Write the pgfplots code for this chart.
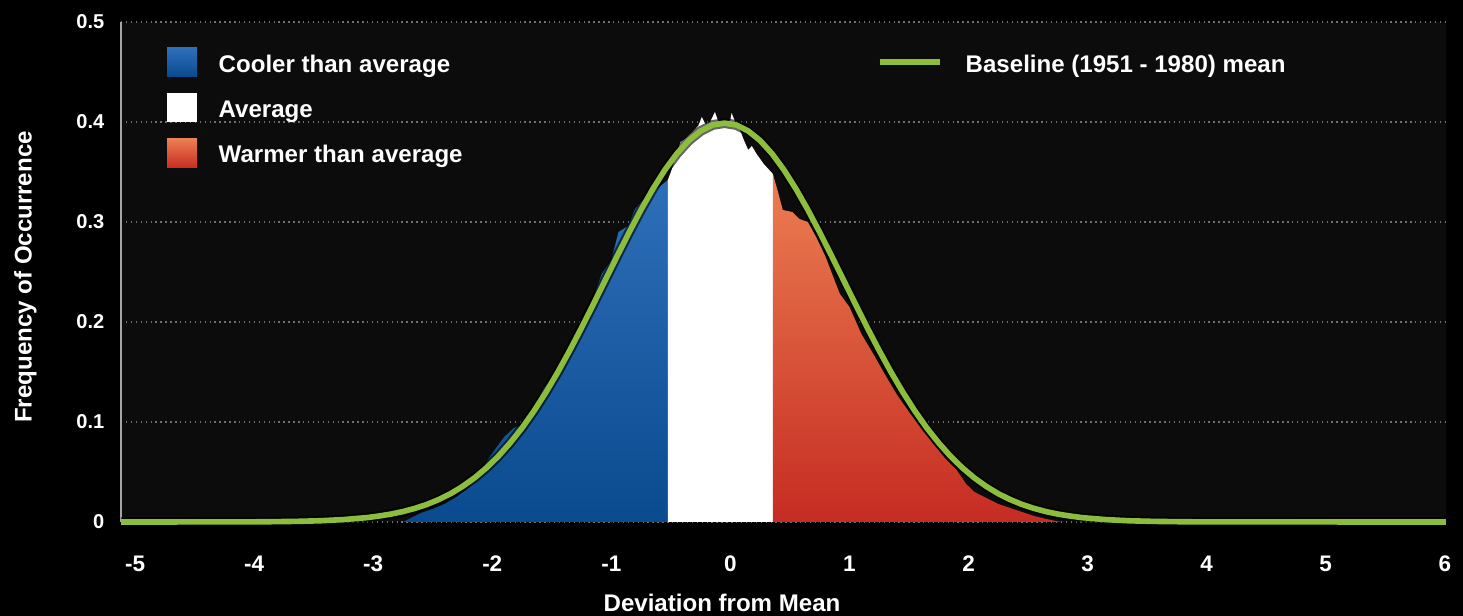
\documentclass[border=0pt]{standalone}
\usepackage{fontspec}
\setmainfont{Liberation Sans}
\usepackage{pgfplots}
\pgfplotsset{compat=1.18}
\definecolor{panel}{HTML}{0C0C0C}
\definecolor{gridc}{HTML}{707070}
\definecolor{blueT}{HTML}{2E6FBA}
\definecolor{blueB}{HTML}{0A4A8E}
\definecolor{oranT}{HTML}{EC7E52}
\definecolor{oranB}{HTML}{C62C22}
\definecolor{lgreen}{HTML}{8CBD3C}
\begin{document}
\begin{tikzpicture}
\fill[black] (0,0) rectangle (146.3mm,61.6mm);
\path[use as bounding box] (0,0) rectangle (146.3mm,61.6mm);
\begin{axis}[
  at={(12.1mm,9.4mm)}, anchor=south west,
  scale only axis, width=132.5mm, height=50mm,
  xmin=-5.118, xmax=6.01, ymin=0, ymax=0.5,
  xtick={-5,-4,-3,-2,-1,0,1,2,3,4,5,6},
  xticklabels={-5,-4,-3,-2,-1,0,1,2,3,4,5,6},
  ytick={0,0.1,0.2,0.3,0.4,0.5},
  yticklabels={0,0.1,0.2,0.3,0.4,0.5},
  axis background/.style={fill=panel},
  axis y line*=left, axis x line*=bottom,
  x axis line style={draw=none},
  y axis line style={-, draw=gray!70, line width=0.4pt},
  ymajorgrids, grid style={densely dotted, gridc, line width=0.35pt},
  major tick length=0pt,
  xticklabel style={font=\bfseries\fontsize{6.4}{7}\selectfont, text=white, anchor=north, inner sep=0pt, yshift=-3.3mm},
  yticklabel style={font=\bfseries\fontsize{5.7}{6.5}\selectfont, text=white, anchor=east, inner sep=0pt, xshift=-1.6mm},
  clip=false,
]
% cooler than average
\addplot[draw=none, top color=blueT, bottom color=blueB] table {
x y
-2.75 0
-2.6 0.009
-2.5 0.013
-2.4 0.018
-2.3 0.025
-2.2 0.034
-2.12 0.046
-2.05 0.060
-1.98 0.072
-1.9 0.085
-1.82 0.094
-1.75 0.097
-1.68 0.104
-1.62 0.120
-1.57 0.134
-1.5 0.142
-1.4 0.160
-1.3 0.180
-1.2 0.205
-1.12 0.235
-1.08 0.248
-1.0 0.262
-0.94 0.290
-0.86 0.296
-0.80 0.313
-0.75 0.320
-0.65 0.330
-0.525 0.342
} \closedcycle;
% average
\addplot[draw=none, fill=white] table {
x y
-0.525 0.342
-0.5 0.350
-0.45 0.368
-0.42 0.380
-0.38 0.383
-0.32 0.390
-0.27 0.396
-0.24 0.405
-0.21 0.398
-0.17 0.400
-0.13 0.410
-0.10 0.400
-0.05 0.398
0.00 0.402
0.01 0.409
0.04 0.400
0.08 0.392
0.12 0.380
0.15 0.372
0.18 0.376
0.22 0.368
0.28 0.358
0.357 0.348
} \closedcycle;
% warmer than average
\addplot[draw=none, top color=oranT, bottom color=oranB] table {
x y
0.357 0.348
0.40 0.330
0.44 0.312
0.52 0.310
0.58 0.303
0.65 0.300
0.72 0.285
0.80 0.265
0.88 0.240
0.92 0.228
1.00 0.215
1.10 0.188
1.20 0.168
1.30 0.147
1.40 0.127
1.50 0.110
1.60 0.094
1.70 0.079
1.80 0.064
1.90 0.052
1.98 0.038
2.05 0.030
2.15 0.024
2.25 0.018
2.35 0.014
2.45 0.010
2.55 0.006
2.65 0.003
2.78 0.0
} \closedcycle;
% baseline mean curve
\pgfplotstableread{
x y
-5.118 0.0000
-4.05 0.0001
-3.85 0.0003
-3.65 0.0006
-3.45 0.0012
-3.25 0.0024
-3.05 0.0044
-2.95 0.0060
-2.85 0.0079
-2.75 0.0104
-2.65 0.0136
-2.55 0.0175
-2.45 0.0224
-2.35 0.0283
-2.25 0.0355
-2.15 0.0440
-2.05 0.0540
-1.95 0.0656
-1.85 0.0790
-1.75 0.0940
-1.65 0.1109
-1.55 0.1295
-1.45 0.1497
-1.35 0.1714
-1.25 0.1942
-1.15 0.2179
-1.05 0.2420
-0.95 0.2661
-0.85 0.2897
-0.75 0.3123
-0.65 0.3332
-0.55 0.3521
-0.45 0.3683
-0.35 0.3814
-0.25 0.3910
-0.15 0.3970
-0.05 0.3989
0.05 0.3970
0.15 0.3910
0.25 0.3814
0.35 0.3683
0.45 0.3521
0.55 0.3332
0.65 0.3123
0.75 0.2897
0.85 0.2661
0.95 0.2420
1.05 0.2179
1.15 0.1942
1.25 0.1714
1.35 0.1497
1.45 0.1295
1.55 0.1109
1.65 0.0940
1.75 0.0790
1.85 0.0656
1.95 0.0540
2.05 0.0440
2.15 0.0355
2.25 0.0283
2.35 0.0224
2.45 0.0175
2.55 0.0136
2.65 0.0104
2.75 0.0079
2.85 0.0060
2.95 0.0044
3.15 0.0024
3.35 0.0012
3.55 0.0006
3.75 0.0003
3.95 0.0001
6.01 0.0000
}\curvetable
\addplot[black, opacity=0.6, line width=2.8pt, line join=round] table {\curvetable};
\addplot[lgreen, line width=1.6pt, line join=round] table {\curvetable};
\end{axis}
% legend
\shade[top color=blueT, bottom color=blueB] (16.7mm,53.9mm) rectangle (19.7mm,56.8mm);
\fill[white] (16.7mm,49.4mm) rectangle (19.7mm,52.3mm);
\shade[top color=oranT, bottom color=oranB] (16.7mm,44.8mm) rectangle (19.7mm,47.7mm);
\begin{scope}[every node/.style={anchor=base west, inner sep=0pt, text=white, font=\bfseries\fontsize{6.85}{8}\selectfont}]
\node at (21.8mm,54.3mm) {Cooler than average};
\node at (21.8mm,49.8mm) {Average};
\node at (21.8mm,45.3mm) {Warmer than average};
\node at (96.5mm,54.3mm) {Baseline (1951 - 1980) mean};
\end{scope}
\draw[lgreen, line width=1.7pt] (88mm,55.4mm) -- (94mm,55.4mm);
% axis labels
\node[rotate=90, anchor=base, inner sep=0pt, text=white, font=\bfseries\fontsize{6.85}{8}\selectfont] at (3.17mm,33.9mm) {Frequency of Occurrence};
\node[anchor=center, inner sep=0pt, text=white, font=\bfseries\fontsize{6.85}{8}\selectfont] at (72.2mm,1.35mm) {Deviation from Mean};
\end{tikzpicture}
\end{document}
